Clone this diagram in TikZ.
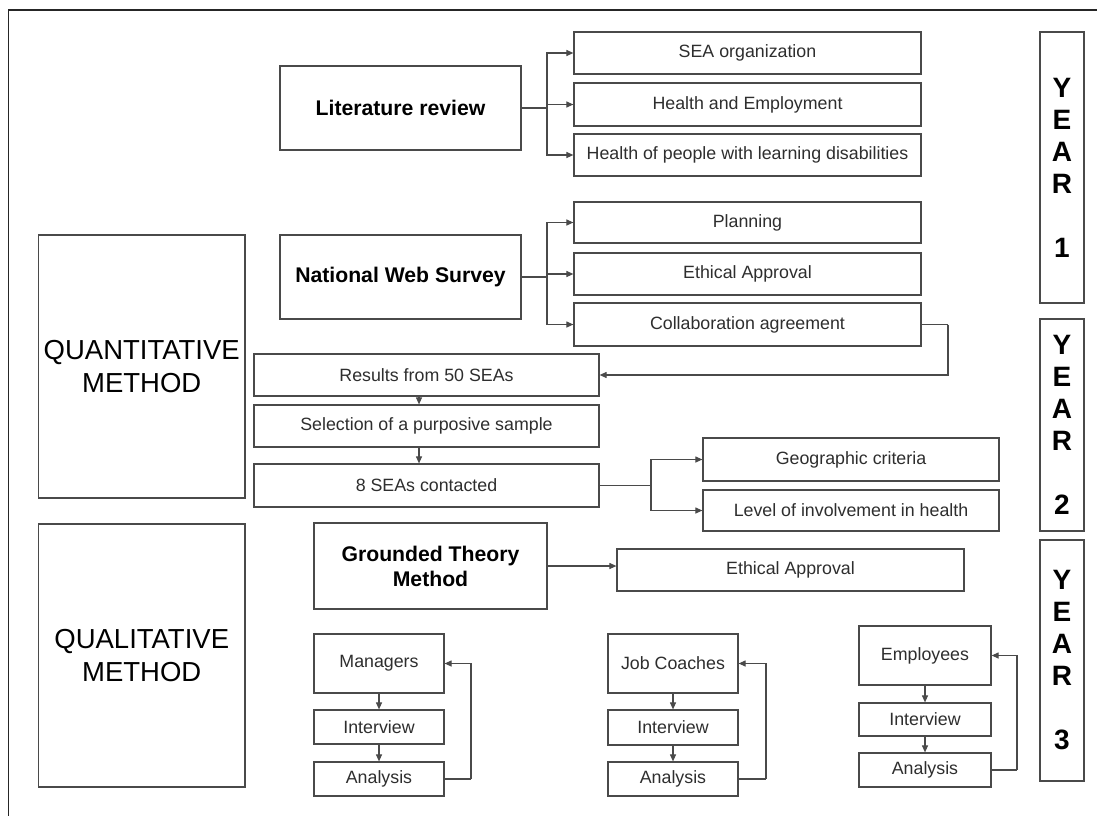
\documentclass[tikz,border=0pt]{standalone}
\usepackage{fontspec}
\setmainfont{Liberation Sans}
\usetikzlibrary{arrows.meta}

\definecolor{edge}{HTML}{4A4A4A}
\definecolor{ink}{HTML}{2E2E2E}

% \placebox{name}{x1}{y1}{x2}{y2}{style}{text}: a box given by its corners
\newcommand\placebox[7]{%
  \node[#6, minimum width={(#4-#2)*1pt}, minimum height={(#5-#3)*1pt}]
    (#1) at ({(#2+#4)/2},{(#3+#5)/2}) {#7};}

\tikzset{
  stepbox/.style={draw=edge, line width=1.2pt, inner sep=0pt, text=ink,
    font=\fontsize{17.8}{21}\selectfont},
  headbox/.style={stepbox, text=black, align=center,
    font=\fontsize{21.2}{25}\selectfont\bfseries},
  methodbox/.style={stepbox, text=black, align=center,
    font=\fontsize{27.5}{33}\selectfont},
  yearbox/.style={stepbox, text=black, align=center,
    font=\fontsize{28}{32}\selectfont\bfseries},
  link/.style={draw=edge, line width=1.1pt},
  arr/.style={link, -{Triangle[length=7pt,width=6pt]}},
}

\begin{document}
\begin{tikzpicture}[x=1pt, y=-1pt]
\fill[white] (0,0) rectangle (1097,816);
\useasboundingbox (0,0) rectangle (1097,816);

% outer frame (top and left sides)
\draw[line width=1.3pt, black!85] (1097,10) -- (8.5,10) -- (8.5,816);

% method boxes
\placebox{quant}{38.5}{235}{245}{498}{methodbox}{QUANTITATIVE\\METHOD}
\placebox{qual}{38.5}{524}{245}{787}{methodbox}{QUALITATIVE\\METHOD}

% year boxes
\placebox{yearA}{1040}{32}{1084}{303}{yearbox}{Y\\E\\A\\R\\[32pt]1}
\placebox{yearB}{1040}{319}{1084}{531}{yearbox}{Y\\E\\A\\R\\[32pt]2}
\placebox{yearC}{1040}{540}{1084}{781}{yearbox}{Y\\E\\A\\R\\[32pt]3}

% literature review
\placebox{lit}{280}{66}{521}{150}{headbox}{Literature review}
\placebox{sea}{574}{32}{921}{74}{stepbox}{SEA organization}
\placebox{hae}{574}{83}{921}{126}{stepbox}{Health and Employment}
\placebox{hpl}{574}{134}{921}{176}{stepbox}{Health of people with learning disabilities}

% national web survey
\placebox{nws}{280}{235}{521}{319}{headbox}{National Web Survey}
\placebox{pln}{574}{202}{921}{243}{stepbox}{Planning}
\placebox{ethA}{574}{253}{921}{295}{stepbox}{Ethical Approval}
\placebox{col}{574}{303}{921}{346}{stepbox}{Collaboration agreement}

% sample selection
\placebox{res}{254}{354}{599}{396}{stepbox}{Results from 50 SEAs}
\placebox{sel}{254}{405}{599}{447}{stepbox}{Selection of a purposive sample}
\placebox{sea8}{254}{464}{599}{507}{stepbox}{8 SEAs contacted}
\placebox{geo}{703}{438}{999}{481}{stepbox}{Geographic criteria}
\placebox{lvl}{703}{490}{999}{531}{stepbox}{Level of involvement in health}

% grounded theory
\placebox{gtm}{314}{523}{547}{609}{headbox}{Grounded Theory\\Method}
\placebox{ethB}{617}{549}{964}{591}{stepbox}{Ethical Approval}

% interview cycles
\placebox{mgr}{314}{634}{444}{693}{stepbox}{Managers}
\placebox{mint}{314}{710}{444}{744}{stepbox}{Interview}
\placebox{mana}{314}{762}{444}{796}{stepbox}{Analysis}
\placebox{jc}{608}{634}{738}{693}{stepbox}{Job Coaches}
\placebox{jint}{608}{710}{738}{745}{stepbox}{Interview}
\placebox{jana}{608}{762}{738}{796}{stepbox}{Analysis}
\placebox{emp}{859}{626}{991}{685}{stepbox}{Employees}
\placebox{eint}{859}{703}{991}{736}{stepbox}{Interview}
\placebox{eana}{859}{753}{991}{787}{stepbox}{Analysis}

% forks
\coordinate (litfork) at (547,108);
\coordinate (nwsfork) at (547,277);
\coordinate (colbend) at (948,324.5);
\coordinate (seafork) at (651,485.5);
\coordinate (mloop) at (471,779);
\coordinate (jloop) at (766,779);
\coordinate (eloop) at (1017,770);

\draw[link] (lit.east) -- (litfork);
\foreach \t in {sea,hae,hpl} \draw[arr] (litfork) |- (\t.west);
\draw[link] (nws.east) -- (nwsfork);
\foreach \t in {pln,ethA,col} \draw[arr] (nwsfork) |- (\t.west);

\draw[link] (col.east) -- (colbend);
\draw[arr] (colbend) |- (res.east);
\draw[arr] ([xshift=-7.5pt]res.south) -- ([xshift=-7.5pt]sel.north);
\draw[arr] ([xshift=-7.5pt]sel.south) -- ([xshift=-7.5pt]sea8.north);
\draw[link] (sea8.east) -- (seafork);
\foreach \t in {geo,lvl} \draw[arr] (seafork) |- (\t.west);

\draw[arr] ([yshift=-0pt]gtm.east) -- (gtm.east -| ethB.west);

\draw[arr] (mgr) -- (mint);
\draw[arr] (mint) -- (mana);
\draw[link] (mana.east) -- (mloop);
\draw[arr] (mloop) |- (mgr.east);
\draw[arr] (jc) -- (jint);
\draw[arr] (jint) -- (jana);
\draw[link] (jana.east) -- (jloop);
\draw[arr] (jloop) |- (jc.east);
\draw[arr] (emp) -- (eint);
\draw[arr] (eint) -- (eana);
\draw[link] (eana.east) -- (eloop);
\draw[arr] (eloop) |- (emp.east);
\end{tikzpicture}
\end{document}
